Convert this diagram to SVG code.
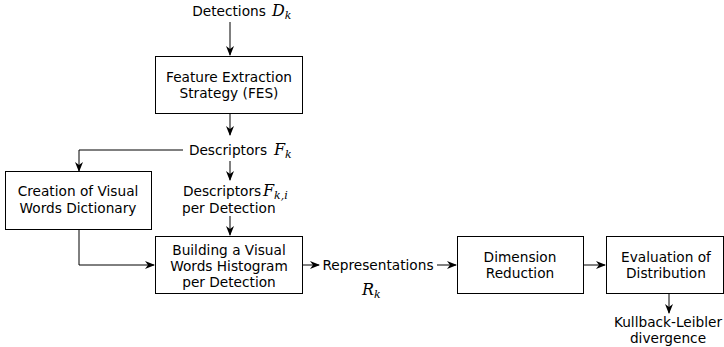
<svg xmlns="http://www.w3.org/2000/svg" width="724" height="347" viewBox="0 0 724 347">
<style>
.box{fill:#fff;stroke:#000;stroke-width:1}
.t{font-family:"DejaVu Sans",sans-serif;font-size:13.7px;fill:#000;text-anchor:middle}
.l{text-anchor:start}
.m{font-family:"DejaVu Serif",serif;font-style:italic;font-size:16px;fill:#000}
.s{font-size:11px}
.c{fill:none;stroke:#000;stroke-width:1}
</style>
<defs>
<marker id="a" markerWidth="10" markerHeight="8" refX="9" refY="4" orient="auto" markerUnits="userSpaceOnUse">
<path d="M0,0 L10,4 L0,8 L3,4 Z" fill="#000"/>
</marker>
</defs>
<rect width="724" height="347" fill="#fff"/>
<g id="connectors">
<path class="c" d="M230,22 V55" marker-end="url(#a)"/>
<path class="c" d="M230,114 V135" marker-end="url(#a)"/>
<path class="c" d="M183,150 H79 V171" marker-end="url(#a)"/>
<path class="c" d="M230,161 V180" marker-end="url(#a)"/>
<path class="c" d="M230,216 V235" marker-end="url(#a)"/>
<path class="c" d="M79,230 V265 H154" marker-end="url(#a)"/>
<path class="c" d="M303,265 H319" marker-end="url(#a)"/>
<path class="c" d="M437,265 H456" marker-end="url(#a)"/>
<path class="c" d="M584,265 H605" marker-end="url(#a)"/>
<path class="c" d="M669,294 V313" marker-end="url(#a)"/>
</g>
<g id="detections">
<text class="t" x="229" y="16">Detections</text>
<text class="m" x="272" y="16">D<tspan class="s" dy="3">k</tspan></text>
</g>
<g id="fes">
<rect class="box" x="155.5" y="56.5" width="147" height="57"/>
<text class="t" x="229" y="82">Feature Extraction</text>
<text class="t" x="229" y="98">Strategy (FES)</text>
</g>
<g id="descriptors">
<text class="t" x="228" y="155">Descriptors</text>
<text class="m" x="274" y="155">F<tspan class="s" dy="3">k</tspan></text>
</g>
<g id="creation">
<rect class="box" x="5.5" y="171.5" width="146" height="58"/>
<text class="t" x="78" y="196">Creation of Visual</text>
<text class="t" x="78" y="213">Words Dictionary</text>
</g>
<g id="descriptors-per-detection">
<text class="t l" x="183" y="196">Descriptors</text>
<text class="m" x="263" y="196">F<tspan class="s" dy="3">k,i</tspan></text>
<text class="t l" x="182" y="213">per Detection</text>
</g>
<g id="building">
<rect class="box" x="155.5" y="236.5" width="147" height="57"/>
<text class="t" x="229" y="255">Building a Visual</text>
<text class="t" x="229" y="271">Words Histogram</text>
<text class="t" x="229" y="287">per Detection</text>
</g>
<g id="representations">
<text class="t" x="378" y="270">Representations</text>
<text class="m" x="362" y="295">R<tspan class="s" dy="3">k</tspan></text>
</g>
<g id="dimension">
<rect class="box" x="457.5" y="236.5" width="126" height="57"/>
<text class="t" x="520" y="262">Dimension</text>
<text class="t" x="520" y="278">Reduction</text>
</g>
<g id="evaluation">
<rect class="box" x="606.5" y="236.5" width="117" height="57"/>
<text class="t" x="666" y="262">Evaluation of</text>
<text class="t" x="666" y="278">Distribution</text>
</g>
<g id="kl">
<text class="t" x="668" y="327">Kullback-Leibler</text>
<text class="t" x="668" y="343">divergence</text>
</g>
</svg>
